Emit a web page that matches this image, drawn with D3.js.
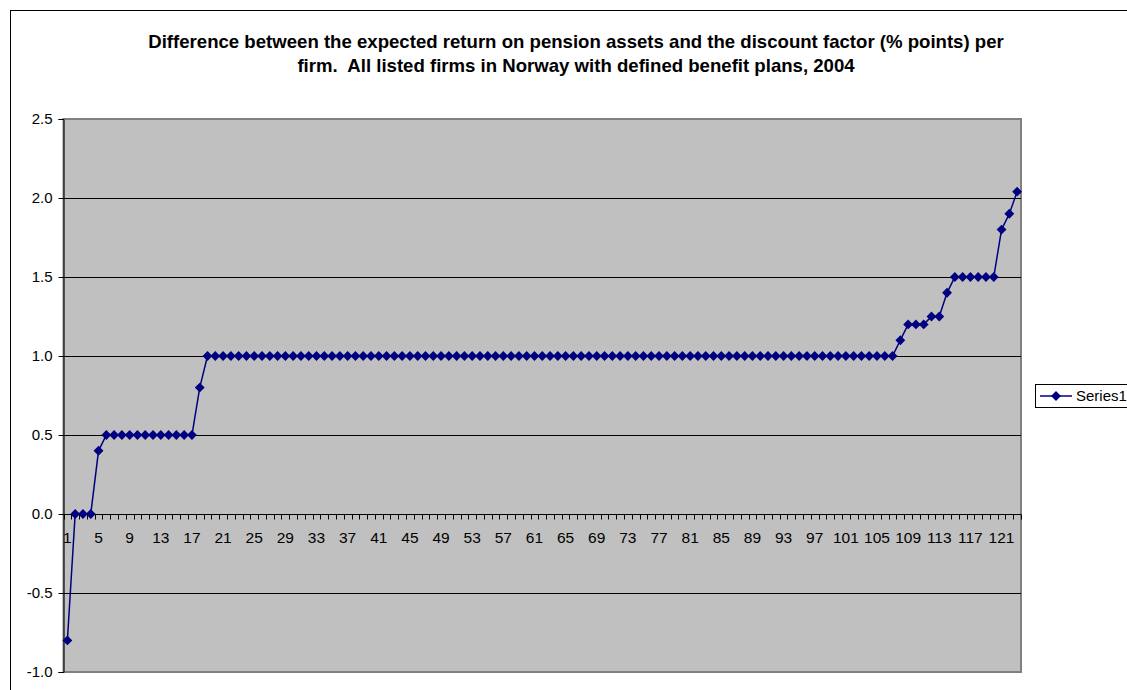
<!DOCTYPE html>
<html>
<head>
<meta charset="utf-8">
<script src="https://cdn.jsdelivr.net/npm/d3@7"></script>
<style>
  html, body { margin: 0; padding: 0; background: #fff; overflow: hidden; }
  svg { display: block; }
  text { font-family: "Liberation Sans", Arial, sans-serif; white-space: pre; }
</style>
</head>
<body>
<svg id="chart" width="1127" height="690"></svg>
<script>
// ---- data ----
const titleLines = [
  "Difference between the expected return on pension assets and the discount factor (% points) per",
  "firm.  All listed firms in Norway with defined benefit plans, 2004"
];
const seriesName = "Series1";
const values = [
  -0.8, 0, 0, 0, 0.4,
  0.5, 0.5, 0.5, 0.5, 0.5, 0.5, 0.5, 0.5, 0.5, 0.5, 0.5, 0.5,
  0.8,
  1.0, 1.0, 1.0, 1.0, 1.0, 1.0, 1.0, 1.0, 1.0, 1.0,
  1.0, 1.0, 1.0, 1.0, 1.0, 1.0, 1.0, 1.0, 1.0, 1.0,
  1.0, 1.0, 1.0, 1.0, 1.0, 1.0, 1.0, 1.0, 1.0, 1.0,
  1.0, 1.0, 1.0, 1.0, 1.0, 1.0, 1.0, 1.0, 1.0, 1.0,
  1.0, 1.0, 1.0, 1.0, 1.0, 1.0, 1.0, 1.0, 1.0, 1.0,
  1.0, 1.0, 1.0, 1.0, 1.0, 1.0, 1.0, 1.0, 1.0, 1.0,
  1.0, 1.0, 1.0, 1.0, 1.0, 1.0, 1.0, 1.0, 1.0, 1.0,
  1.0, 1.0, 1.0, 1.0, 1.0, 1.0, 1.0, 1.0, 1.0, 1.0,
  1.0, 1.0, 1.0, 1.0, 1.0, 1.0, 1.0, 1.0, 1.0,
  1.1, 1.2, 1.2, 1.2, 1.25, 1.25, 1.4,
  1.5, 1.5, 1.5, 1.5, 1.5, 1.5,
  1.8, 1.9, 2.04
];
const categories = values.map((v, i) => i + 1);
const yTicks = [-1.0, -0.5, 0.0, 0.5, 1.0, 1.5, 2.0, 2.5];
const xTickLabels = categories.filter(c => (c - 1) % 4 === 0);

// ---- layout ----
const svg = d3.select("#chart");
const plot = { left: 63.5, top: 119, right: 1021, bottom: 672 };

const x = d3.scaleLinear()
  .domain([0.5, categories.length + 0.5])
  .range([plot.left, plot.right]);
const y = d3.scaleLinear()
  .domain([-1.0, 2.5])
  .range([plot.bottom, plot.top]);

// outer chart border
svg.append("rect")
  .attr("x", 10.5).attr("y", 10.5)
  .attr("width", 1130).attr("height", 690)
  .attr("fill", "#fff").attr("stroke", "#000").attr("stroke-width", 1);

// title
svg.append("g").selectAll("text").data(titleLines).join("text")
  .attr("x", 576).attr("y", (d, i) => 48 + i * 24)
  .attr("text-anchor", "middle")
  .attr("font-size", "18.6px").attr("font-weight", "bold")
  .attr("fill", "#000")
  .text(d => d);

// plot area
svg.append("rect")
  .attr("x", plot.left).attr("y", plot.top)
  .attr("width", plot.right - plot.left).attr("height", plot.bottom - plot.top)
  .attr("fill", "#c0c0c0").attr("stroke", "#808080").attr("stroke-width", 2);

// gridlines
svg.append("g").selectAll("line")
  .data(yTicks.filter(t => t !== 2.5 && t !== -1.0 && t !== 0))
  .join("line")
  .attr("x1", plot.left).attr("x2", plot.right)
  .attr("y1", d => Math.round(y(d)) + 0.5).attr("y2", d => Math.round(y(d)) + 0.5)
  .attr("stroke", "#000").attr("stroke-width", 1);

// y axis
const yAxis = d3.axisLeft(y).tickValues(yTicks).tickSize(5).tickPadding(6);
const gy = svg.append("g").attr("transform", `translate(${plot.left},0)`).call(yAxis);
gy.select(".domain").attr("stroke", "#000");
gy.selectAll(".tick line").attr("stroke", "#000");
gy.selectAll(".tick text").attr("font-size", "15px").attr("fill", "#000")
  .attr("font-family", '"Liberation Sans", Arial, sans-serif')
  .text(d => d3.format(".1f")(d).replace("\u2212", "-"));

// x axis at y=0
const y0 = Math.round(y(0)) + 0.5;
const boundaries = d3.range(0, categories.length + 1).map(i => i + 0.5);
const gx = svg.append("g");
gx.append("line")
  .attr("x1", plot.left).attr("x2", plot.right)
  .attr("y1", y0).attr("y2", y0)
  .attr("stroke", "#000");
gx.selectAll("line.tk").data(boundaries).join("line").attr("class", "tk")
  .attr("x1", d => Math.round(x(d)) + 0.5).attr("x2", d => Math.round(x(d)) + 0.5)
  .attr("y1", y0).attr("y2", y0 + 5)
  .attr("stroke", "#000");
gx.selectAll("text").data(xTickLabels).join("text")
  .attr("x", d => x(d)).attr("y", y0 + 28)
  .attr("text-anchor", "middle")
  .attr("font-size", "15.5px").attr("fill", "#000")
  .text(d => d);

// series line
const line = d3.line().x((d, i) => x(categories[i])).y(d => y(d));
svg.append("path").datum(values)
  .attr("d", line)
  .attr("fill", "none").attr("stroke", "#000080").attr("stroke-width", 1.5);

// markers (diamonds)
const diamond = d3.symbol().type(d3.symbolDiamond2).size(62);
svg.append("g").selectAll("path").data(values).join("path")
  .attr("transform", (d, i) => `translate(${x(categories[i])},${y(d)})`)
  .attr("d", diamond)
  .attr("fill", "#000080");

// legend
const lg = svg.append("g");
lg.append("rect")
  .attr("x", 1035.5).attr("y", 384.5).attr("width", 100).attr("height", 23)
  .attr("fill", "#fff").attr("stroke", "#000");
lg.append("line")
  .attr("x1", 1040).attr("x2", 1072).attr("y1", 396).attr("y2", 396)
  .attr("stroke", "#000080").attr("stroke-width", 1.5);
lg.append("path").attr("transform", "translate(1056,396)").attr("d", diamond).attr("fill", "#000080");
lg.append("text").attr("x", 1076).attr("y", 401)
  .attr("font-size", "15px").attr("fill", "#000").text(seriesName);
</script>
</body>
</html>
